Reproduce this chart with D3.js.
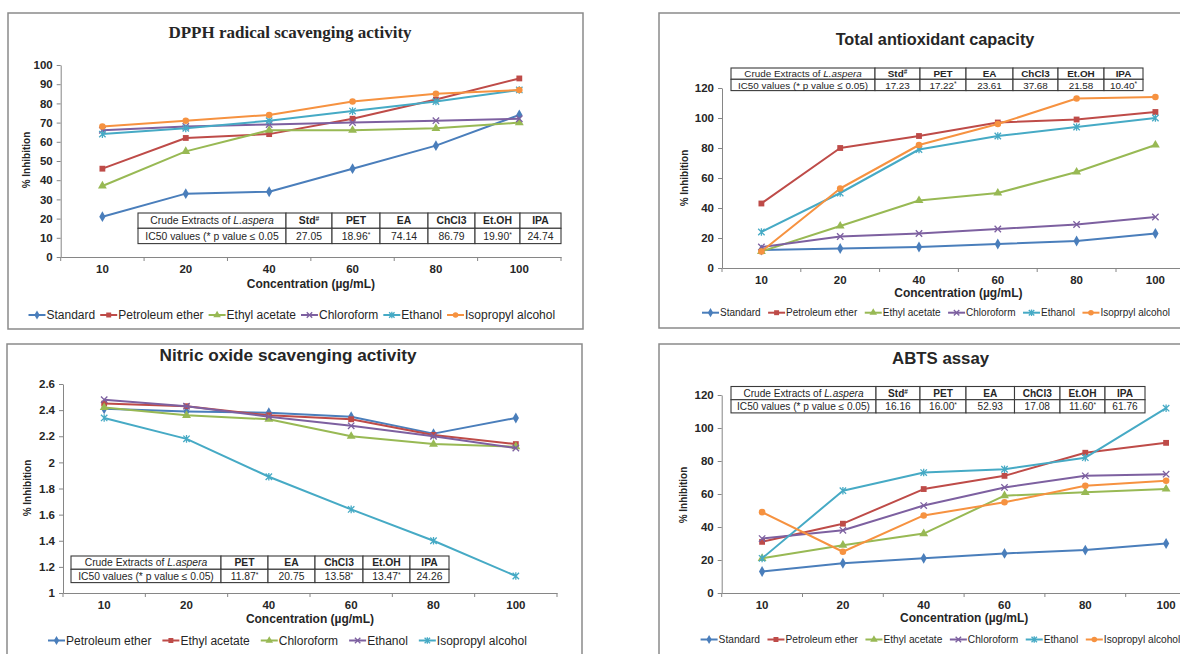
<!DOCTYPE html>
<html>
<head>
<meta charset="utf-8">
<script src="https://cdn.jsdelivr.net/npm/d3@7"></script>
<style>
  body { margin: 0; background: #fff; }
  svg { display: block; }
  text { font-family: "Liberation Sans", Arial, sans-serif; fill: #262626; }
</style>
</head>
<body>
<svg id="chart" width="1180" height="654"></svg>
<script>
// ---- data ----
const concentrations = ['10', '20', '40', '60', '80', '100'];

const extractNames = ['Standard', 'Petroleum ether', 'Ethyl acetate', 'Chloroform', 'Ethanol', 'Isopropyl alcohol'];
const taacNames = ['Standard', 'Petroleum ether', 'Ethyl acetate', 'Chloroform', 'Ethanol', 'Isoprpyl alcohol'];
const noNames = ['Petroleum ether', 'Ethyl acetate', 'Chloroform', 'Ethanol', 'Isopropyl alcohol'];

const dpphValues = [
    [21, 33, 34, 46, 58, 74],
    [46, 62, 64, 72, 82, 93],
    [37, 55, 66, 66, 67, 70],
    [66, 68, 69, 70, 71, 72],
    [64, 67, 71, 76, 81, 87],
    [68, 71, 74, 81, 85, 87]
];
const taacValues = [
    [12, 13, 14, 16, 18, 23],
    [43, 80, 88, 97, 99, 104],
    [11, 28, 45, 50, 64, 82],
    [14, 21, 23, 26, 29, 34],
    [24, 50, 79, 88, 94, 100],
    [11, 53, 82, 96, 113, 114]
];
const noValues = [
    [2.41, 2.39, 2.38, 2.35, 2.22, 2.34],
    [2.45, 2.43, 2.36, 2.33, 2.21, 2.14],
    [2.42, 2.36, 2.33, 2.20, 2.14, 2.12],
    [2.48, 2.43, 2.35, 2.28, 2.20, 2.11],
    [2.34, 2.18, 1.89, 1.64, 1.40, 1.13]
];
const abtsValues = [
    [13, 18, 21, 24, 26, 30],
    [31, 42, 63, 71, 85, 91],
    [21, 29, 36, 59, 61, 63],
    [33, 38, 53, 64, 71, 72],
    [21, 62, 73, 75, 82, 112],
    [49, 25, 47, 55, 65, 68]
];

const ticks100 = [0, 10, 20, 30, 40, 50, 60, 70, 80, 90, 100];
const ticks120 = [0, 20, 40, 60, 80, 100, 120];
const noTicks = [1, 1.2, 1.4, 1.6, 1.8, 2, 2.2, 2.4, 2.6];
const noTickLabels = ['1', '1.2', '1.4', '1.6', '1.8', '2', '2.2', '2.4', '2.6'];

const tableHead = ['Std#', 'PET', 'EA', 'ChCl3', 'Et.OH', 'IPA'];
const tableHeadNo = ['PET', 'EA', 'ChCl3', 'Et.OH', 'IPA'];
const dpphIC50 = ['27.05', '18.96*', '74.14', '86.79', '19.90*', '24.74'];
const taacIC50 = ['17.23', '17.22*', '23.61', '37.68', '21.58', '10.40*'];
const noIC50 = ['11.87*', '20.75', '13.58*', '13.47*', '24.26'];
const abtsIC50 = ['16.16', '16.00*', '52.93', '17.08', '11.60*', '61.76'];

const COLORS = ['#4a7ebb', '#be4b48', '#98b954', '#7d60a0', '#46aac5', '#f69240'];
const MARKERS = ['diamond', 'square', 'triangle', 'cross', 'star', 'circle'];
const AXIS_COLOR = '#868686';

const svg = d3.select('#chart');

function marker(sel, type, color, s) {
    s = s || 1;
    if (type === 'cross' || type === 'star') {
        const r = 3.2 * s;
        let d = `M${-r},${-r}L${r},${r}M${-r},${r}L${r},${-r}`;
        if (type === 'star') d += `M0,${-r - 0.6}L0,${r + 0.6}`;
        sel.append('path').attr('d', d).attr('stroke', color).attr('stroke-width', 1.3).attr('fill', 'none');
    } else {
        const sym = { diamond: d3.symbolDiamond, square: d3.symbolSquare, triangle: d3.symbolTriangle, circle: d3.symbolCircle }[type];
        const size = { diamond: 34, square: 34, triangle: 34, circle: 34 }[type] * s * s;
        sel.append('path').attr('d', d3.symbol(sym, size)()).attr('fill', color);
    }
}

function cellText(sel, str) {
    const last = str.slice(-1);
    if (last === '*' || last === '#') {
        sel.append('tspan').text(str.slice(0, -1));
        sel.append('tspan').text(last).attr('font-size', '65%').attr('dy', '-0.45em');
    } else {
        sel.text(str);
    }
}

function drawTable(g, t) {
    const cols = t.cols;
    const rows = [
        ['', ...t.head],
        [t.rowLabel, ...t.values]
    ];
    const tg = g.append('g').attr('font-size', t.font + 'px');
    rows.forEach((row, r) => {
        row.forEach((cell, c) => {
            const x0 = cols[c], x1 = cols[c + 1];
            const y0 = t.top + r * t.rowH;
            tg.append('rect')
                .attr('x', x0).attr('y', y0)
                .attr('width', x1 - x0).attr('height', t.rowH)
                .attr('fill', '#fff').attr('stroke', '#3a3a3a').attr('stroke-width', 1.1);
            const txt = tg.append('text')
                .attr('x', (x0 + x1) / 2).attr('y', y0 + t.rowH / 2)
                .attr('dy', '0.36em').attr('text-anchor', 'middle')
                .attr('fill', '#333');
            if (r === 0 && c === 0) {
                txt.append('tspan').text('Crude Extracts of ');
                txt.append('tspan').text('L.aspera').attr('font-style', 'italic');
            } else {
                if (r === 0) txt.attr('font-weight', 'bold');
                cellText(txt, cell);
            }
        });
    });
}

function drawPanel(p) {
    const g = svg.append('g');

    g.append('rect')
        .attr('x', p.frame[0]).attr('y', p.frame[1])
        .attr('width', p.frame[2]).attr('height', p.frame[3])
        .attr('fill', 'none').attr('stroke', '#8a8a8a').attr('stroke-width', 1.5);

    g.append('text')
        .attr('x', p.titleX).attr('y', p.titleY)
        .attr('text-anchor', 'middle')
        .attr('font-weight', 'bold')
        .attr('font-size', p.titleSize + 'px')
        .style('font-family', p.titleFont || null)
        .text(p.title);

    const x = d3.scaleBand().domain(concentrations).range([p.left, p.right]);
    const y = d3.scaleLinear().domain(p.yDomain).range([p.bottom, p.top]);

    const yAxis = g.append('g')
        .attr('transform', `translate(${p.left},0)`)
        .call(d3.axisLeft(y)
            .tickValues(p.yTicks)
            .tickFormat((d, i) => p.yLabels ? p.yLabels[i] : d)
            .tickSize(4).tickPadding(4).tickSizeOuter(0));

    const xAxis = g.append('g')
        .attr('transform', `translate(0,${p.bottom})`)
        .call(d3.axisBottom(x).tickSize(0).tickPadding(8).tickSizeOuter(0));

    [yAxis, xAxis].forEach(a => {
        a.select('.domain').attr('stroke', AXIS_COLOR);
        a.selectAll('.tick line').attr('stroke', AXIS_COLOR);
        a.selectAll('.tick text')
            .attr('fill', '#262626')
            .attr('font-size', '11.5px')
            .attr('font-weight', 'bold')
            .style('font-family', '"Liberation Sans", Arial, sans-serif');
    });

    // category boundary ticks (Excel style)
    g.append('g').selectAll('line')
        .data(d3.range(concentrations.length + 1))
        .enter().append('line')
        .attr('x1', i => p.left + i * x.step()).attr('x2', i => p.left + i * x.step())
        .attr('y1', p.bottom).attr('y2', p.bottom + 4)
        .attr('stroke', AXIS_COLOR);

    g.append('text')
        .attr('x', (p.left + p.right) / 2).attr('y', p.xTitleY)
        .attr('dy', '0.35em').attr('text-anchor', 'middle')
        .attr('font-weight', 'bold').attr('font-size', '12px')
        .text('Concentration (µg/mL)');

    g.append('text')
        .attr('transform', `translate(${p.yTitleX},${p.yTitleY}) rotate(-90)`)
        .attr('dy', '0.35em').attr('text-anchor', 'middle')
        .attr('font-weight', 'bold').attr('font-size', '10px')
        .text('% Inhibition');

    drawTable(g, p.table);

    const line = d3.line()
        .x((d, i) => x(concentrations[i]) + x.bandwidth() / 2)
        .y(d => y(d));

    p.values.forEach((vals, s) => {
        const color = COLORS[s];
        g.append('path')
            .attr('d', line(vals))
            .attr('fill', 'none').attr('stroke', color)
            .attr('stroke-width', 2).attr('stroke-linejoin', 'round');
        vals.forEach((v, i) => {
            const m = g.append('g')
                .attr('transform', `translate(${x(concentrations[i]) + x.bandwidth() / 2},${y(v)})`);
            marker(m, MARKERS[s], color);
        });
    });

    // legend
    let cx = p.legendX;
    p.names.forEach((name, s) => {
        const lg = g.append('g').attr('transform', `translate(${cx},${p.legendY})`);
        lg.append('line').attr('x1', 0).attr('x2', 17).attr('stroke', COLORS[s]).attr('stroke-width', 2);
        marker(lg.append('g').attr('transform', 'translate(8.5,0)'), MARKERS[s], COLORS[s], 0.85);
        const t = lg.append('text')
            .attr('x', 18).attr('dy', '0.35em')
            .attr('font-size', p.legendFont + 'px')
            .attr('fill', '#333')
            .text(name);
        cx += 18 + t.node().getComputedTextLength() + p.legendGap;
    });
}

const panels = [
    {
        title: 'DPPH radical scavenging activity', titleFont: '"Liberation Serif", "Times New Roman", serif',
        titleSize: 17, titleX: 290, titleY: 38,
        frame: [8, 13, 575, 316],
        left: 60.7, right: 561, top: 65, bottom: 257,
        yDomain: [0, 100], yTicks: ticks100,
        xTitleY: 283.3, yTitleX: 26, yTitleY: 160,
        names: extractNames, values: dpphValues,
        legendX: 28.5, legendY: 315, legendFont: 12, legendGap: 5,
        table: { cols: [138, 286, 332, 380, 428, 475, 520, 561], top: 213, rowH: 15.3, font: 10.4,
                 head: tableHead, values: dpphIC50, rowLabel: 'IC50 values (* p value \u2264 0.05' }
    },
    {
        title: 'Total antioxidant capacity',
        titleSize: 16.3, titleX: 935, titleY: 45,
        frame: [659, 13, 560, 315],
        left: 722, right: 1194.8, top: 88, bottom: 268,
        yDomain: [0, 120], yTicks: ticks120,
        xTitleY: 292.6, yTitleX: 684, yTitleY: 178,
        names: taacNames, values: taacValues,
        legendX: 702, legendY: 312.7, legendFont: 10, legendGap: 7.5,
        table: { cols: [731, 875, 920, 966, 1013, 1058, 1104, 1143], top: 68, rowH: 11.3, font: 9.9,
                 head: tableHead, values: taacIC50, rowLabel: 'IC50 values (* p value \u2264 0.05)' }
    },
    {
        title: 'Nitric oxide scavenging activity',
        titleSize: 17.2, titleX: 288, titleY: 361,
        frame: [7, 344, 575, 330],
        left: 63, right: 557, top: 384, bottom: 593,
        yDomain: [1, 2.6], yTicks: noTicks, yLabels: noTickLabels,
        xTitleY: 618.4, yTitleX: 27.3, yTitleY: 488,
        names: noNames, values: noValues,
        legendX: 48, legendY: 640.5, legendFont: 12, legendGap: 11,
        table: { cols: [71, 221, 268, 315, 363, 410, 449], top: 556, rowH: 13.3, font: 10.3,
                 head: tableHeadNo, values: noIC50, rowLabel: 'IC50 values (* p value \u2264 0.05)' }
    },
    {
        title: 'ABTS assay',
        titleSize: 16.8, titleX: 940.6, titleY: 363.5,
        frame: [659, 344, 560, 330],
        left: 721.7, right: 1206.5, top: 395, bottom: 593,
        yDomain: [0, 120], yTicks: ticks120,
        xTitleY: 618.2, yTitleX: 683, yTitleY: 495,
        names: extractNames, values: abtsValues,
        legendX: 700.6, legendY: 639.5, legendFont: 10.2, legendGap: 7.5,
        table: { cols: [731, 876, 920, 966, 1014.5, 1060, 1105, 1145], top: 386.5, rowH: 13.2, font: 10.1,
                 head: tableHead, values: abtsIC50, rowLabel: 'IC50 values (* p value \u2264 0.05)' }
    }
];

panels.forEach(drawPanel);
</script>
</body>
</html>
